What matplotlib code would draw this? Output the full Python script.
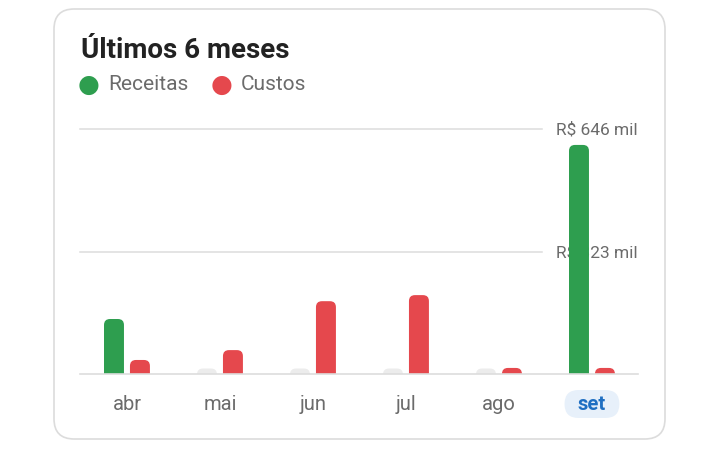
import numpy as np
import matplotlib.pyplot as plt
from matplotlib.patches import FancyBboxPatch

plt.rcParams['font.family'] = ['Roboto', 'DejaVu Sans']

months = ['abr', 'mai', 'jun', 'jul', 'ago', 'set']
receitas = [145, 0, 0, 0, 0, 604]   # R$ mil
custos = [37, 63, 192, 208, 16, 16]   # R$ mil
grid_vals = [323, 646]
grid_labels = ['R$ 323 mil', 'R$ 646 mil']

GREEN = '#2e9e4f'
RED = '#e5484d'
EMPTY = '#ececec'
GRAY_TXT = '#6b6b6b'

W, H = 720, 456
fig = plt.figure(figsize=(W / 100, H / 100), dpi=100)
fig.patch.set_facecolor('white')


def px(x, y):
    return x / W, 1 - y / H


# card
x0, y0 = px(54, 440)
x1, y1 = px(665, 10)
card = FancyBboxPatch((x0, y0), x1 - x0, y1 - y0,
                      boxstyle='round,pad=0,rounding_size=0.028',
                      mutation_aspect=W / H,
                      transform=fig.transFigure, facecolor='white',
                      edgecolor='#dcdcdc', lw=1.2, zorder=-5)
fig.patches.append(card)

fig.text(*px(81, 50), 'Últimos 6 meses', fontsize=20, fontweight='bold',
         color='#222222', va='center', ha='left')

# legend
fig.text(*px(89, 85), '●', fontsize=18, color=GREEN, va='center', ha='center')
fig.text(*px(108, 85), 'Receitas', fontsize=15, color=GRAY_TXT, va='center')
fig.text(*px(222, 85), '●', fontsize=18, color=RED, va='center', ha='center')
fig.text(*px(241, 85), 'Custos', fontsize=15, color=GRAY_TXT, va='center')

# plot area: baseline at y=375, top at y=125
ax_l, ax_b = px(80, 375)
ax_r, ax_t = px(638, 125)
ax = fig.add_axes([ax_l, ax_b, ax_r - ax_l, ax_t - ax_b])
ymax = 646 * 250 / 245
ax.set_xlim(-0.505, 5.495)
ax.set_ylim(0, ymax)
ax.axis('off')

ux = 5.99 / 558      # data units per pixel in x
uy = ymax / 250      # data units per pixel in y
bw = 20 * ux
off = 13 * ux
r = 6


def rbox(xc, yb, w, h, rad, color, z=3, clip=True):
    p = FancyBboxPatch((xc - w / 2, yb), w, h,
                       boxstyle='round,pad=0,rounding_size=%f' % (rad * ux),
                       mutation_aspect=uy / ux,
                       facecolor=color, edgecolor='none', zorder=z,
                       clip_on=clip)
    ax.add_patch(p)


def rbar(xc, h, color):
    # rounded top bar; bottom part sits below the axis and is clipped
    b = -r * uy
    rbox(xc, b, bw, h - b, r, color)


x = np.arange(len(months))
for i in range(len(months)):
    if receitas[i] > 0:
        rbar(x[i] - off, receitas[i], GREEN)
    else:
        rbar(x[i] - off, 5.5 * uy, EMPTY)
    rbar(x[i] + off, custos[i], RED)

# gridlines + labels
for v, lab in zip(grid_vals, grid_labels):
    ax.plot([-0.505, -0.505 + 463 * ux], [v, v], color='#dddddd', lw=1.1,
            zorder=1, clip_on=False)
    ax.text(5.495, v, lab, fontsize=12.5, color=GRAY_TXT, ha='right',
            va='center', zorder=2)
ax.plot([-0.505, 5.495], [0, 0], color='#dddddd', lw=1.2, zorder=4,
        clip_on=False)

# month labels
ly = -30 * uy
for i, m in enumerate(months):
    if i == len(months) - 1:
        rbox(x[i], ly - 14 * uy, 55 * ux, 28 * uy, 14, '#e7f0fa', z=1,
             clip=False)
        ax.text(x[i], ly, m, fontsize=14.5, color='#1f6fc2',
                fontweight='bold', ha='center', va='center', zorder=2)
    else:
        ax.text(x[i], ly, m, fontsize=14.5, color=GRAY_TXT,
                ha='center', va='center')

fig.savefig('out.png', dpi=100, facecolor='white')
